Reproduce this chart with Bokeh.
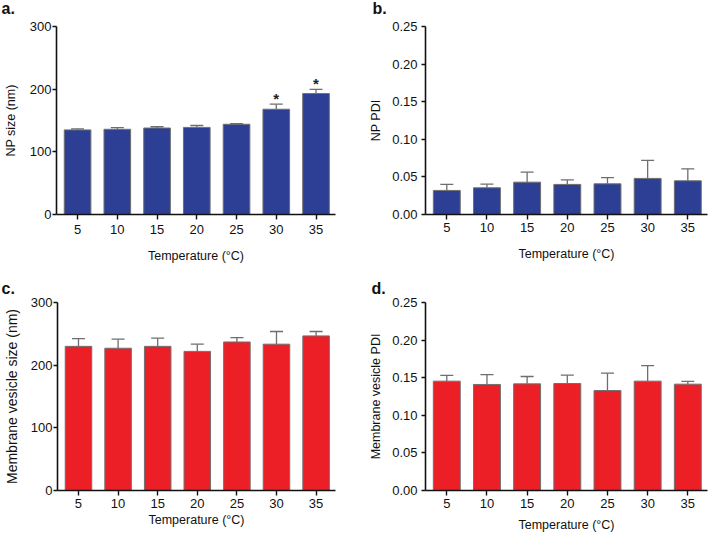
from bokeh.plotting import figure
from bokeh.models import Range1d, FixedTicker, Whisker, TeeHead, ColumnDataSource, NumeralTickFormatter
from bokeh.layouts import column, row
from bokeh.embed import file_html
from bokeh.resources import INLINE
from bokeh.core.properties import value

# ---- data ----
temps = ["5", "10", "15", "20", "25", "30", "35"]
np_size = [135, 136, 138, 139, 144, 168, 193]
np_size_err = [1.6, 2.5, 2.0, 3.0, 0.8, 8.0, 6.8]
np_size_sig = ["", "", "", "", "", "*", "*"]
np_pdi = [0.032, 0.0355, 0.043, 0.040, 0.0408, 0.048, 0.0448]
np_pdi_err = [0.008, 0.0048, 0.0133, 0.006, 0.0082, 0.024, 0.0159]
mv_size = [230, 227, 230, 222, 237, 233.5, 246.7]
mv_size_err = [12.2, 14.5, 13.0, 11.5, 7.0, 20.2, 7.0]
mv_pdi = [0.1454, 0.141, 0.1418, 0.1423, 0.1329, 0.1454, 0.1414]
mv_pdi_err = [0.0076, 0.013, 0.0098, 0.011, 0.0231, 0.0206, 0.0036]

size_ticks = [0, 100, 200, 300]
pdi_ticks = [0, 0.05, 0.10, 0.15, 0.20, 0.25]
panel_letters_top = ["a.", "b."]
panel_letters_bottom = ["c.", "d."]

BLUE = "#2c3f95"
RED = "#ec1f27"
FONT = "Liberation Sans"
W = 708


def letter_strip(letters, height, xs, ys):
    s = figure(width=W, height=height, output_backend="svg", toolbar_location=None,
               title=None, x_axis_location=None, y_axis_location=None,
               min_border=0, x_range=Range1d(0, W), y_range=Range1d(height, 0))
    s.grid.visible = False
    s.outline_line_color = None
    s.background_fill_color = "white"
    s.border_fill_color = "white"
    src = ColumnDataSource(dict(x=xs, y=ys, t=letters))
    s.text(x="x", y="y", text="t", source=src, text_font=value(FONT), text_font_size="16px",
           text_font_style="bold", text_baseline="alphabetic", text_align="left", text_color="#111111")
    return s


def panel(vals, errs, color, ylabel, yticks, fmt, sig,
          width, height, mb_left, mb_right, mb_top, mb_bottom,
          y_std, ylab_std, x_std, x_lab_std, ylab_size):
    xr = Range1d(-0.53, 6.49)
    yr = Range1d(yticks[0], yticks[-1])
    p = figure(width=width, height=height, output_backend="svg", toolbar_location=None,
               min_border_left=mb_left, min_border_right=mb_right,
               min_border_top=mb_top, min_border_bottom=mb_bottom,
               x_range=xr, y_range=yr, title=None)
    p.outline_line_color = None
    p.grid.visible = False
    p.background_fill_color = "white"
    p.border_fill_color = "white"

    idx = list(range(len(temps)))
    tops = [v + e for v, e in zip(vals, errs)]
    src = ColumnDataSource(dict(x=idx, top=vals, upper=tops, sig=sig if sig else [""] * len(idx)))

    p.add_layout(Whisker(source=src, base="x", lower="top", upper="upper", dimension="height",
                         line_color="#6e6e6e", line_width=1.3, lower_head=None,
                         upper_head=TeeHead(size=13, line_color="#6e6e6e", line_width=1.3)))
    p.vbar(x="x", top="top", bottom=0, width=0.67, source=src, fill_color=color,
           line_color="#707070", line_width=1)
    if sig:
        p.text(x="x", y="upper", text="sig", source=src, text_align="center", text_baseline="bottom",
               text_font=value(FONT), text_font_size="15px", text_font_style="bold",
               text_color="#222222", y_offset=3)

    # x axis
    xa = p.xaxis[0]
    xa.ticker = FixedTicker(ticks=idx)
    xa.major_label_overrides = {i: t for i, t in zip(idx, temps)}
    xa.minor_tick_line_color = None
    xa.major_tick_out = 5
    xa.major_tick_in = 0
    xa.major_label_standoff = x_std
    xa.axis_label = "Temperature (\u00b0C)"
    xa.axis_label_standoff = x_lab_std
    # y axis
    ya = p.yaxis[0]
    ya.ticker = FixedTicker(ticks=yticks)
    ya.formatter = NumeralTickFormatter(format=fmt)
    ya.minor_tick_line_color = None
    ya.major_tick_out = 4
    ya.major_tick_in = 0
    ya.major_label_standoff = y_std
    ya.axis_label = ylabel
    ya.axis_label_standoff = ylab_std
    for ax in (xa, ya):
        ax.axis_line_width = 1.6
        ax.axis_line_color = "#111111"
        ax.major_tick_line_width = 1.4
        ax.major_tick_line_color = "#111111"
        ax.major_label_text_font = FONT
        ax.major_label_text_font_size = "13px"
        ax.major_label_text_color = "#111111"
        ax.axis_label_text_font = FONT
        ax.axis_label_text_font_style = "normal"
        ax.axis_label_text_color = "#111111"
    xa.axis_label_text_font_size = "12.5px"
    ya.axis_label_text_font_size = ylab_size
    return p


top_strip = letter_strip(panel_letters_top, 18, [1, 372], [8, 8])
pa = panel(np_size, np_size_err, BLUE, "NP size (nm)", size_ticks, "0", np_size_sig,
           362, 254, 53, 27, 8, 58, 1, 9, 5, 12, "12.5px")
pb = panel(np_pdi, np_pdi_err, BLUE, "NP PDI", pdi_ticks, "0.00", None,
           346, 254, 63, 1, 8, 58, 4, 6, 3, 12, "12.5px")
mid_strip = letter_strip(panel_letters_bottom, 24, [1, 371], [16, 16])
pc = panel(mv_size, mv_size_err, RED, "Membrane vesicle size (nm)", size_ticks, "0", None,
           362, 242, 53, 27, 6, 48, 1, 8, 3, 2, "14px")
pd = panel(mv_pdi, mv_pdi_err, RED, "Membrane vesicle PDI", pdi_ticks, "0.00", None,
           346, 242, 63, 1, 6, 48, 4, 6, 3, 7, "12.5px")

layout = column(top_strip, row(pa, pb, spacing=0), mid_strip, row(pc, pd, spacing=0), spacing=0)
open("out.html", "w").write(file_html(layout, INLINE))
